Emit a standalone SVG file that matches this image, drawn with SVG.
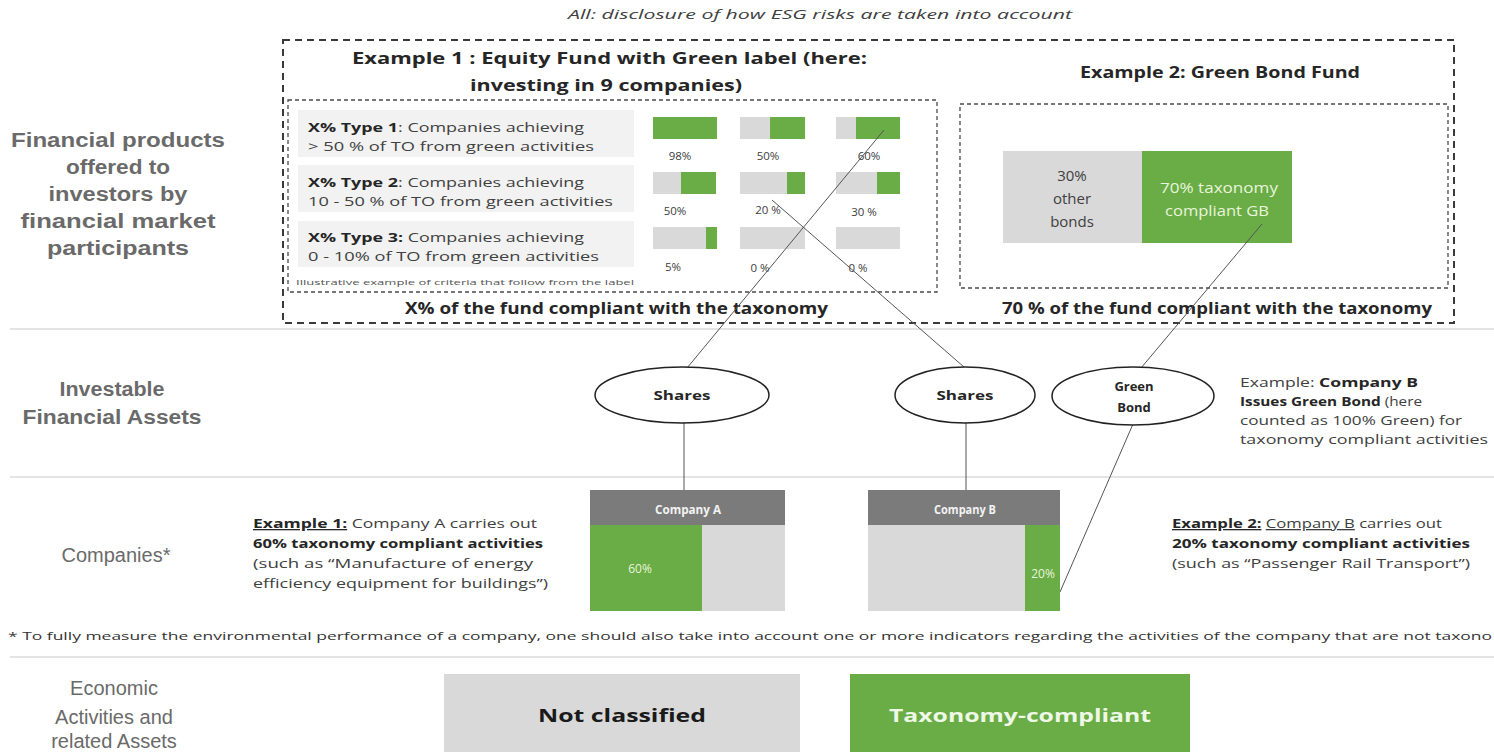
<svg xmlns="http://www.w3.org/2000/svg" width="1494" height="752" viewBox="0 0 1494 752">
<style>
.lbl{font-family:"Liberation Sans",Arial,sans-serif;font-size:20px;fill:#6a6a6a;text-anchor:middle}
.lblb{font-weight:bold}
.h{font-family:"Open Sans",sans-serif;font-weight:bold;font-size:16px;fill:#262626}
.t{font-family:"Open Sans",sans-serif;font-size:13px;fill:#404040}
.tb{font-weight:bold;fill:#262626}
.pct{font-family:"Open Sans",sans-serif;font-size:11.5px;fill:#404040;text-anchor:middle}
.g{fill:#6aac45}
.gr{fill:#d9d9d9}
.row{fill:#f2f2f2}
.dash1{fill:none;stroke:#3a3a3a;stroke-width:2;stroke-dasharray:7 5}
.dash2{fill:none;stroke:#4a4a4a;stroke-width:1.3;stroke-dasharray:4 3}
.sep{stroke:#e4e4e4;stroke-width:2}
.conn{stroke:#555;stroke-width:1;fill:none}
.ell{fill:#fff;stroke:#222;stroke-width:1.5}
.et{font-family:"Open Sans",sans-serif;font-weight:bold;font-size:13px;fill:#262626;text-anchor:middle}
.wt{font-family:"Open Sans",sans-serif;fill:#e8f5dc;text-anchor:middle}
</style>

<text x="568" y="19" textLength="504" lengthAdjust="spacingAndGlyphs" font-family="Open Sans, sans-serif" font-style="italic" font-size="13" fill="#404040">All: disclosure of how ESG risks are taken into account</text>

<g id="separators">
<line class="sep" x1="10" y1="329" x2="1494" y2="329"/>
<line class="sep" x1="10" y1="477" x2="1494" y2="477"/>
<line class="sep" x1="10" y1="657" x2="1494" y2="657"/>
</g>

<g id="label-financial-products">
<text class="lbl lblb" x="118" y="147" textLength="214" lengthAdjust="spacingAndGlyphs">Financial products</text>
<text class="lbl lblb" x="118" y="174" textLength="104" lengthAdjust="spacingAndGlyphs">offered to</text>
<text class="lbl lblb" x="118" y="201" textLength="139" lengthAdjust="spacingAndGlyphs">investors by</text>
<text class="lbl lblb" x="118" y="228" textLength="195" lengthAdjust="spacingAndGlyphs">financial market</text>
<text class="lbl lblb" x="118" y="255" textLength="142" lengthAdjust="spacingAndGlyphs">participants</text>
</g>
<g id="label-investable">
<text class="lbl lblb" x="112" y="396" textLength="105" lengthAdjust="spacingAndGlyphs">Investable</text>
<text class="lbl lblb" x="112" y="424" textLength="179" lengthAdjust="spacingAndGlyphs">Financial Assets</text>
</g>
<g id="label-companies">
<text class="lbl" x="116" y="562">Companies*</text>
</g>
<g id="label-economic">
<text class="lbl" x="114" y="695">Economic</text>
<text class="lbl" x="114" y="724">Activities and</text>
<text class="lbl" x="114" y="748">related Assets</text>
</g>

<g id="products-box">
<rect class="dash1" x="283" y="40" width="1171" height="283"/>
</g>

<g id="example1">
<text class="h" x="352" y="64" textLength="515" lengthAdjust="spacingAndGlyphs">Example 1 : Equity Fund with Green label (here:</text>
<text class="h" x="470" y="91" textLength="272" lengthAdjust="spacingAndGlyphs">investing in 9 companies)</text>
<rect class="dash2" x="288" y="100" width="649" height="192"/>
<rect class="row" x="298" y="110" width="336" height="47"/>
<rect class="row" x="298" y="165" width="336" height="47"/>
<rect class="row" x="298" y="221" width="336" height="46"/>
<text class="t" x="308" y="132" textLength="276" lengthAdjust="spacingAndGlyphs"><tspan class="tb">X% Type 1</tspan>: Companies achieving</text>
<text class="t" x="308" y="151" textLength="286" lengthAdjust="spacingAndGlyphs">&gt; 50 % of TO from green activities</text>
<text class="t" x="308" y="187" textLength="276" lengthAdjust="spacingAndGlyphs"><tspan class="tb">X% Type 2</tspan>: Companies achieving</text>
<text class="t" x="308" y="206" textLength="305" lengthAdjust="spacingAndGlyphs">10 - 50 % of TO from green activities</text>
<text class="t" x="308" y="242" textLength="276" lengthAdjust="spacingAndGlyphs"><tspan class="tb">X% Type 3:</tspan> Companies achieving</text>
<text class="t" x="308" y="261" textLength="291" lengthAdjust="spacingAndGlyphs">0 - 10% of TO from green activities</text>
<text x="296" y="285" textLength="338" lengthAdjust="spacingAndGlyphs" font-family="Open Sans, sans-serif" font-size="8" fill="#555">Illustrative example of criteria that follow from the label</text>
<rect class="g" x="653" y="117" width="64" height="22"/>
<rect class="gr" x="740" y="117" width="30" height="22"/><rect class="g" x="770" y="117" width="35" height="22"/>
<rect class="gr" x="836" y="117" width="20" height="22"/><rect class="g" x="856" y="117" width="44" height="22"/>
<rect class="gr" x="653" y="172" width="28" height="22"/><rect class="g" x="681" y="172" width="35" height="22"/>
<rect class="gr" x="740" y="172" width="47" height="22"/><rect class="g" x="787" y="172" width="18" height="22"/>
<rect class="gr" x="836" y="172" width="41" height="22"/><rect class="g" x="877" y="172" width="23" height="22"/>
<rect class="gr" x="653" y="227" width="53" height="22"/><rect class="g" x="706" y="227" width="11" height="22"/>
<rect class="gr" x="740" y="227" width="65" height="22"/>
<rect class="gr" x="836" y="227" width="64" height="22"/>
<text class="pct" x="680" y="160">98%</text>
<text class="pct" x="768" y="160">50%</text>
<text class="pct" x="869" y="160">60%</text>
<text class="pct" x="675" y="215">50%</text>
<text class="pct" x="768" y="214">20 %</text>
<text class="pct" x="864" y="216">30 %</text>
<text class="pct" x="673" y="271">5%</text>
<text class="pct" x="760" y="272">0 %</text>
<text class="pct" x="858" y="272">0 %</text>
<text class="h" x="405" y="314" font-size="15" textLength="423" lengthAdjust="spacingAndGlyphs">X% of the fund compliant with the taxonomy</text>
</g>

<g id="example2">
<text class="h" x="1080" y="78" textLength="280" lengthAdjust="spacingAndGlyphs">Example 2: Green Bond Fund</text>
<rect class="dash2" x="960" y="104" width="488" height="184"/>
<rect class="gr" x="1003" y="151" width="139" height="92"/>
<rect class="g" x="1142" y="151" width="150" height="92"/>
<text x="1072" y="181" font-family="Open Sans, sans-serif" font-size="15" fill="#404040" text-anchor="middle">30%</text>
<text x="1072" y="204" font-family="Open Sans, sans-serif" font-size="15" fill="#404040" text-anchor="middle">other</text>
<text x="1072" y="227" font-family="Open Sans, sans-serif" font-size="15" fill="#404040" text-anchor="middle">bonds</text>
<text class="wt" x="1219" y="193" font-size="14" textLength="118" lengthAdjust="spacingAndGlyphs">70% taxonomy</text>
<text class="wt" x="1217" y="216" font-size="14" textLength="104" lengthAdjust="spacingAndGlyphs">compliant  GB</text>
<text class="h" x="1002" y="314" font-size="15" textLength="430" lengthAdjust="spacingAndGlyphs">70 % of the fund compliant with the taxonomy</text>
</g>

<g id="connectors">
<line class="conn" x1="884" y1="130" x2="687" y2="368"/>
<line class="conn" x1="772" y1="200" x2="964" y2="367"/>
<line class="conn" x1="1262" y1="224" x2="1141" y2="368"/>
<line class="conn" x1="1133" y1="424" x2="1060" y2="592"/>
<line class="conn" x1="684" y1="423" x2="684" y2="490"/>
<line class="conn" x1="966" y1="423" x2="966" y2="490"/>
</g>

<g id="shares-a">
<ellipse class="ell" cx="682" cy="395" rx="87" ry="28"/>
<text class="et" x="682" y="400" textLength="57" lengthAdjust="spacingAndGlyphs">Shares</text>
</g>
<g id="shares-b">
<ellipse class="ell" cx="965" cy="395" rx="70" ry="28"/>
<text class="et" x="965" y="400" textLength="57" lengthAdjust="spacingAndGlyphs">Shares</text>
</g>
<g id="green-bond">
<ellipse class="ell" cx="1133" cy="396" rx="81" ry="29"/>
<text class="et" x="1134" y="391">Green</text>
<text class="et" x="1134" y="412">Bond</text>
</g>
<g id="green-bond-note">
<text class="t" x="1240" y="387" textLength="178" lengthAdjust="spacingAndGlyphs">Example: <tspan class="tb">Company B</tspan></text>
<text class="t" x="1240" y="406" textLength="182" lengthAdjust="spacingAndGlyphs"><tspan class="tb">Issues Green Bond</tspan>  (here</text>
<text class="t" x="1240" y="425" textLength="222" lengthAdjust="spacingAndGlyphs">counted as 100% Green) for</text>
<text class="t" x="1240" y="444" textLength="248" lengthAdjust="spacingAndGlyphs">taxonomy compliant activities</text>
</g>

<g id="company-a-text">
<text class="t" x="253" y="528" textLength="284" lengthAdjust="spacingAndGlyphs"><tspan class="tb" text-decoration="underline">Example 1:</tspan> Company A carries out</text>
<text class="t tb" x="253" y="548" textLength="290" lengthAdjust="spacingAndGlyphs">60% taxonomy compliant activities</text>
<text class="t" x="253" y="568" textLength="280" lengthAdjust="spacingAndGlyphs">(such as “Manufacture of energy</text>
<text class="t" x="253" y="588" textLength="295" lengthAdjust="spacingAndGlyphs">efficiency equipment for buildings”)</text>
</g>
<g id="company-a">
<rect x="590" y="490" width="195" height="35" fill="#7b7b7b"/>
<text x="688" y="514" font-family="Open Sans, sans-serif" font-weight="bold" font-size="12" fill="#f2f2f2" text-anchor="middle" textLength="66" lengthAdjust="spacingAndGlyphs">Company A</text>
<rect class="g" x="590" y="525" width="112" height="86"/>
<rect class="gr" x="702" y="525" width="83" height="86"/>
<text class="wt" x="640" y="573" font-size="12">60%</text>
</g>
<g id="company-b">
<rect x="868" y="490" width="192" height="35" fill="#7b7b7b"/>
<text x="965" y="514" font-family="Open Sans, sans-serif" font-weight="bold" font-size="12" fill="#f2f2f2" text-anchor="middle" textLength="62" lengthAdjust="spacingAndGlyphs">Company B</text>
<rect class="gr" x="868" y="525" width="157" height="86"/>
<rect class="g" x="1025" y="525" width="35" height="86"/>
<text class="wt" x="1043" y="578" font-size="12">20%</text>
</g>
<g id="company-b-text">
<text class="t" x="1172" y="528" textLength="270" lengthAdjust="spacingAndGlyphs"><tspan class="tb" text-decoration="underline">Example 2:</tspan> <tspan text-decoration="underline">Company B</tspan> carries out</text>
<text class="t tb" x="1172" y="548" textLength="298" lengthAdjust="spacingAndGlyphs">20% taxonomy compliant activities</text>
<text class="t" x="1172" y="568" textLength="298" lengthAdjust="spacingAndGlyphs">(such as “Passenger Rail Transport”)</text>
</g>

<text x="8" y="640" textLength="1484" lengthAdjust="spacingAndGlyphs" font-family="Open Sans, sans-serif" font-size="11" fill="#333">* To fully measure the environmental performance of a company, one should also take into account one or more indicators regarding the activities of the company that are not taxono</text>

<g id="not-classified">
<rect class="gr" x="444" y="674" width="356" height="78"/>
<text x="622" y="722" font-family="Open Sans, sans-serif" font-weight="bold" font-size="17" fill="#1a1a1a" text-anchor="middle" textLength="168" lengthAdjust="spacingAndGlyphs">Not classified</text>
</g>
<g id="taxonomy-compliant">
<rect class="g" x="850" y="674" width="340" height="78"/>
<text x="1020" y="722" font-family="Open Sans, sans-serif" font-weight="bold" font-size="17" fill="#eef8e6" text-anchor="middle" textLength="262" lengthAdjust="spacingAndGlyphs">Taxonomy-compliant</text>
</g>
</svg>
